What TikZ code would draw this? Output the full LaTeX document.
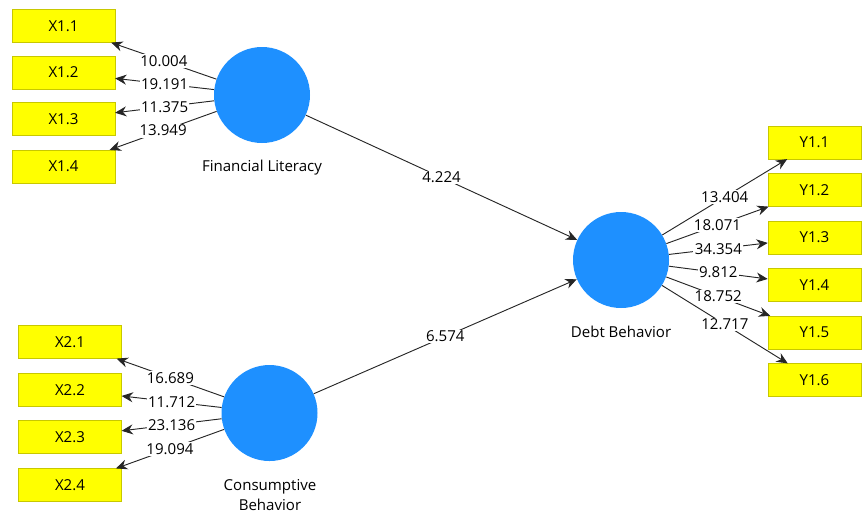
\documentclass[tikz,border=0pt]{standalone}
\usepackage{fontspec}
\setmainfont{Open Sans}
\usetikzlibrary{shapes,arrows.meta,positioning,calc}

\definecolor{lvblue}{RGB}{30,144,255}
\definecolor{mvyellow}{RGB}{255,255,0}
\definecolor{mvborder}{RGB}{200,200,0}

\begin{document}
\begin{tikzpicture}[x=0.75pt, y=-0.75pt, font=\fontsize{11.3}{15}\selectfont,
  latent/.style={circle, fill=lvblue, minimum size=72pt, inner sep=0pt},
  indicator/.style={draw=mvborder, fill=mvyellow, rectangle, minimum width=77pt, minimum height=24.5pt, inner sep=0pt},
  path/.style={draw=black!85, line width=0.7pt, -{Stealth[length=8.5pt, width=7.5pt]}},
  weight/.style={fill=white, inner sep=1pt, midway}]
\useasboundingbox (0,0) rectangle (862,515);

% latente Variablen
\node[latent] (finLit) at (262,95) {};
\node (finLitName) at (262,168) {Financial Literacy};
\node[latent] (consBeh) at (269.5,413) {};
\node[align=center] (consBehName) at (270,495) {Consumptive\\Behavior};
\node[latent] (debtBeh) at (621,260) {};
\node (debtBehName) at (621,332) {Debt Behavior};

% Indikatoren X1
\node[indicator] (x11) at (63.5,26) {X1.1};
\node[indicator] (x12) at (63.5,72.5) {X1.2};
\node[indicator] (x13) at (63.5,119) {X1.3};
\node[indicator] (x14) at (63.5,166.5) {X1.4};

% Indikatoren X2
\node[indicator] (x21) at (70,342) {X2.1};
\node[indicator] (x22) at (70,390) {X2.2};
\node[indicator] (x23) at (70,437) {X2.3};
\node[indicator] (x24) at (70,485) {X2.4};

% Indikatoren Y1
\node[indicator, minimum width=69.75pt] (y11) at (814.5,142.5) {Y1.1};
\node[indicator, minimum width=69.75pt] (y12) at (814.5,190) {Y1.2};
\node[indicator, minimum width=69.75pt] (y13) at (814.5,237.5) {Y1.3};
\node[indicator, minimum width=69.75pt] (y14) at (814.5,285) {Y1.4};
\node[indicator, minimum width=69.75pt] (y15) at (814.5,332.5) {Y1.5};
\node[indicator, minimum width=69.75pt] (y16) at (814.5,380) {Y1.6};

% Ladungen
\draw[path] (finLit) -- node[weight] {10.004} (x11);
\draw[path] (finLit) -- node[weight] {19.191} (x12);
\draw[path] (finLit) -- node[weight] {11.375} (x13);
\draw[path] (finLit) -- node[weight] {13.949} (x14);

\draw[path] (consBeh) -- node[weight] {16.689} (x21);
\draw[path] (consBeh) -- node[weight] {11.712} (x22);
\draw[path] (consBeh) -- node[weight] {23.136} (x23);
\draw[path] (consBeh) -- node[weight] {19.094} (x24);

\draw[path] (debtBeh) -- node[weight] {13.404} (y11);
\draw[path] (debtBeh) -- node[weight] {18.071} (y12);
\draw[path] (debtBeh) -- node[weight] {34.354} (y13);
\draw[path] (debtBeh) -- node[weight] {9.812} (y14);
\draw[path] (debtBeh) -- node[weight] {18.752} (y15);
\draw[path] (debtBeh) -- node[weight] {12.717} (y16);

% Pfade
\draw[path] (finLit) -- node[weight] {4.224} (debtBeh);
\draw[path] (consBeh) -- node[weight] {6.574} (debtBeh);
\end{tikzpicture}
\end{document}
